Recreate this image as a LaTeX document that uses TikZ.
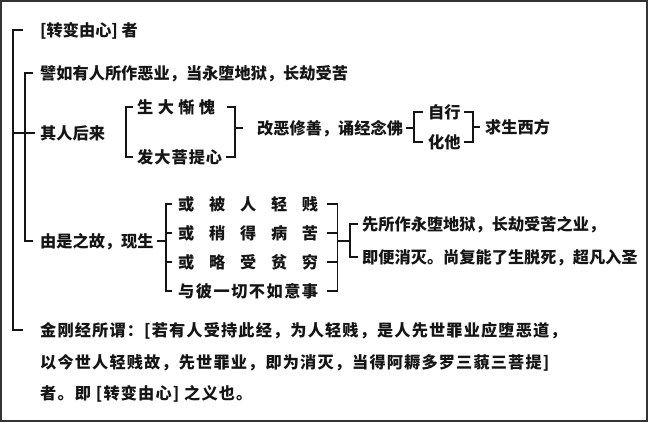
\documentclass[tikz,border=0pt]{standalone}
\usepackage{fontspec}
\newfontfamily\cjk{Noto Sans CJK SC}
\newfontfamily\cjkwide{Noto Sans CJK SC}[LetterSpace=7]
\definecolor{ink}{HTML}{151515}
\definecolor{frame}{HTML}{333333}
\tikzset{
  txt/.style={anchor=west, inner sep=0pt, text=ink,
    font=\cjk\bfseries\fontsize{16.2}{16.2}\selectfont,
    text height=14.3pt, text depth=1.9pt},
  txtw/.style={txt, font=\cjkwide\bfseries\fontsize{16.2}{16.2}\selectfont},
  ln/.style={draw=ink, line width=1.6pt}
}
\begin{document}
\begin{tikzpicture}[x=1pt,y=-1pt]
\useasboundingbox (0,0) rectangle (648,422);
\draw[frame, line width=2pt] (1,1) rectangle (647,421);

\node[txt] (t1) at (40,30) {[转变由心] 者};
\node[txt] (t2) at (40,73) {譬如有人所作恶业，当永堕地狱，长劫受苦};
\node[txt] (t3) at (40,133) {其人后来};
\node[txt] (a1) at (137,107) {\hbox to 78pt{生\hfill 大\hfill 惭\hfill 愧}};
\node[txt] (a2) at (137,157) {\hbox to 85pt{发\hfill 大\hfill 菩\hfill 提\hfill 心}};
\node[txt] (b) at (257,128) {改恶修善，诵经念佛};
\node[txt] (c1) at (428,112) {自行};
\node[txt] (c2) at (428,142) {化他};
\node[txt] (g) at (485,127) {求生西方};
\node[txt] (t4) at (40,241) {由是之故，现生};
\node[txt] (d1) at (178,204) {\hbox to 140pt{或\hfill 被\hfill 人\hfill 轻\hfill 贱}};
\node[txt] (d2) at (178,233) {\hbox to 140pt{或\hfill 稍\hfill 得\hfill 病\hfill 苦}};
\node[txt] (d3) at (178,262) {\hbox to 140pt{或\hfill 略\hfill 受\hfill 贫\hfill 穷}};
\node[txt] (d4) at (178,291) {\hbox to 140pt{与\hfill 彼\hfill 一\hfill 切\hfill 不\hfill 如\hfill 意\hfill 事}};
\node[txt] (e1) at (362,224) {先所作永堕地狱，长劫受苦之业，};
\node[txt] (e2) at (362,257) {即便消灭。尚复能了生脱死，超凡入圣};
\node[txtw] (k1) at (40,330) {金刚经所谓：[若有人受持此经，为人轻贱，是人先世罪业应堕恶道，};
\node[txtw] (k2) at (40,362) {以今世人轻贱故，先世罪业，即为消灭，当得阿耨多罗三藐三菩提]};
\node[txtw] (k3) at (40,393) {者。即 [转变由心] 之义也。};

% outer bracket
\draw[ln] ([xshift=-17pt]t1.west) -| ([xshift=-27pt]k1.west) -- ([xshift=-17pt]k1.west);
% inner bracket
\draw[ln] ([xshift=-7pt]t2.west) -| ([xshift=-15pt]t4.west) -- ([xshift=-7pt]t4.west);
\draw[ln] ([xshift=-27pt]t3.west) -- ([xshift=-5pt]t3.west);
% bracket A left
\draw[ln] ([xshift=-4pt]a1.west) -| ([xshift=-11pt]a2.west) -- ([xshift=-4pt]a2.west);
% bracket A right
\draw[ln] ([xshift=12pt]a1.east) -| ([xshift=-22pt]b.west |- a2.east) -- ([xshift=4pt]a2.east);
\draw[ln] ([xshift=-22pt]b.west) -- ([xshift=-14pt]b.west);
% b to bracket C
\draw[ln] ([xshift=3pt]b.east) -- ([xshift=-14pt]c1.west |- b.east);
\draw[ln] ([xshift=-5pt]c1.west) -| ([xshift=-14pt]c2.west) -- ([xshift=-5pt]c2.west);
% bracket C right
\draw[ln] ([xshift=3pt]c1.east) -| ([xshift=-12pt]g.west |- c2.east) -- ([xshift=3pt]c2.east);
\draw[ln] ([xshift=-12pt]g.west) -- ([xshift=-5pt]g.west);
% t4 to bracket D
\draw[ln] ([xshift=3pt]t4.east) -- ([xshift=-12pt]d1.west |- t4.east);
\draw[ln] ([xshift=-6pt]d1.west) -| ([xshift=-12pt]d4.west) -- ([xshift=-6pt]d4.west);
\draw[ln] ([xshift=-12pt]d2.west) -- ([xshift=-6pt]d2.west);
\draw[ln] ([xshift=-12pt]d3.west) -- ([xshift=-6pt]d3.west);
% bracket D right
\draw[ln] ([xshift=9pt]d1.east) -| ([xshift=19pt]d4.east) -- ([xshift=9pt]d4.east);
\draw[ln] ([xshift=9pt]d2.east) -- ([xshift=19pt]d2.east);
\draw[ln] ([xshift=9pt]d3.east) -- ([xshift=19pt]d3.east);
\draw[ln] ([xshift=19pt]d1.east |- t4.east) -- ([xshift=-12pt]e1.west |- t4.east);
% bracket E
\draw[ln] ([xshift=-4pt]e1.west) -| ([xshift=-12pt]e2.west) -- ([xshift=-4pt]e2.west);
\end{tikzpicture}
\end{document}
